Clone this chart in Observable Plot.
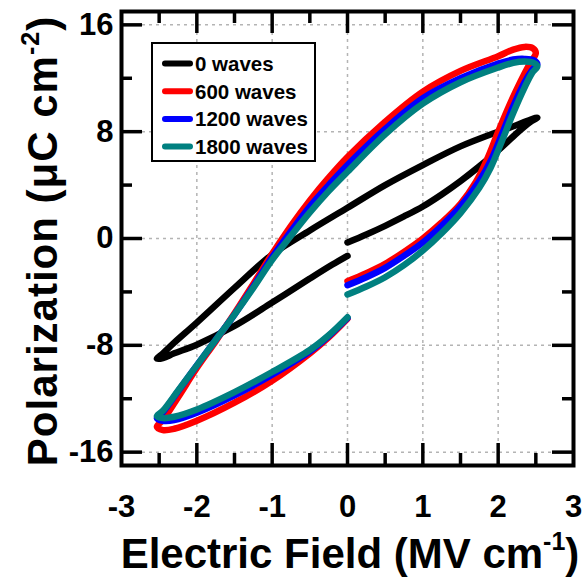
<!DOCTYPE html>
<html><head><meta charset="utf-8">
<script src="https://cdn.jsdelivr.net/npm/d3@7"></script>
<script src="https://cdn.jsdelivr.net/npm/@observablehq/plot@0.6"></script>
<style>body{margin:0;background:#fff} svg{display:block}</style>
</head><body><div id="chart"></div>
<script>
const seriesNames = ["0 waves", "600 waves", "1200 waves", "1800 waves"];
const seriesColors = ["#000000", "#ff0000", "#0000ff", "#008080"];
const xTicks = [-3, -2, -1, 0, 1, 2, 3];
const xInnerMajor = [-2, -1, 0, 1, 2];
const xMinor = [-2.5, -1.5, -0.5, 0.5, 1.5, 2.5];
const yTicks = [-16, -8, 0, 8, 16];
const yMinor = [-12, -4, 4, 12];
const xTitle = "Electric Field (MV cm";
const yTitle = "Polarization (\u03bcC cm";

// [E (MV/cm), P (uC/cm2)] in measurement order
const waves0 = [
  [0,-0.3],[0.25,0.3],[0.5,0.95],[0.75,1.65],[1.0,2.4],[1.25,3.3],[1.5,4.3],[1.75,5.4],[2.0,6.6],[2.25,7.9],[2.42,8.7],[2.52,9.05],
  [2.45,8.95],[2.25,8.5],[2.0,8.0],[1.5,6.9],[1.0,5.5],[0.5,4.0],[0,2.3],[-0.5,0.6],[-1.0,-1.2],[-1.5,-3.7],[-2.0,-6.3],[-2.3,-7.8],[-2.45,-8.6],[-2.53,-9.0],
  [-2.45,-8.95],[-2.3,-8.6],[-2.0,-7.95],[-1.5,-6.55],[-1.0,-4.8],[-0.5,-3.0],[-0.2,-1.95],[0,-1.3]
];
const waves600 = [
  [0,-3.2],[0.25,-2.6],[0.5,-1.9],[0.75,-1.0],[1.0,0.0],[1.25,1.2],[1.5,2.6],[1.7,4.2],[1.85,5.9],[2.0,8.0],[2.15,10.0],[2.3,11.8],[2.42,13.1],[2.5,13.9],
  [2.46,14.25],[2.35,14.35],[2.2,14.15],[2.0,13.65],[1.5,12.55],[1.0,11.0],[0.5,8.75],[0,6.1],[-0.25,4.55],[-0.5,2.85],[-0.75,0.95],[-1.0,-1.15],[-1.25,-3.4],[-1.5,-5.6],[-1.75,-7.7],[-2.0,-9.7],[-2.25,-11.9],[-2.45,-13.6],[-2.53,-14.1],
  [-2.45,-14.35],[-2.3,-14.25],[-2.0,-13.65],[-1.5,-12.3],[-1.0,-10.65],[-0.5,-8.6],[-0.25,-7.4],[0,-6.0]
];
const waves1200 = [
  [0,-3.5],[0.25,-2.9],[0.5,-2.2],[0.75,-1.3],[1.0,-0.3],[1.25,0.95],[1.5,2.4],[1.75,4.3],[1.9,5.8],[2.05,7.8],[2.2,9.9],[2.35,11.7],[2.45,12.6],[2.52,13.05],
  [2.47,13.35],[2.35,13.45],[2.2,13.4],[2.0,13.1],[1.5,12.0],[1.0,10.5],[0.5,8.2],[0,5.5],[-0.25,4.0],[-0.5,2.4],[-0.75,0.55],[-1.0,-1.4],[-1.25,-3.6],[-1.5,-5.7],[-1.75,-7.6],[-2.0,-9.5],[-2.25,-11.45],[-2.45,-13.0],[-2.53,-13.45],
  [-2.45,-13.65],[-2.3,-13.6],[-2.0,-13.05],[-1.5,-11.75],[-1.0,-10.2],[-0.5,-8.45],[-0.25,-7.3],[0,-5.95]
];
const waves1800 = [
  [0,-4.2],[0.25,-3.6],[0.5,-2.9],[0.75,-2.0],[1.0,-0.9],[1.25,0.4],[1.5,1.9],[1.75,3.8],[1.9,5.3],[2.05,7.3],[2.2,9.4],[2.35,11.3],[2.45,12.4],[2.52,12.9],
  [2.47,13.15],[2.35,13.25],[2.2,13.15],[2.0,12.8],[1.5,11.7],[1.0,10.1],[0.5,7.8],[0,5.0],[-0.25,3.55],[-0.5,1.95],[-0.75,0.2],[-1.0,-1.6],[-1.25,-3.7],[-1.5,-5.7],[-1.75,-7.6],[-2.0,-9.5],[-2.25,-11.4],[-2.45,-12.9],[-2.53,-13.3],
  [-2.45,-13.45],[-2.3,-13.35],[-2.0,-12.8],[-1.5,-11.5],[-1.0,-10.0],[-0.5,-8.35],[-0.25,-7.25],[0,-5.9]
];
const allSeries = [waves0, waves600, waves1200, waves1800];

const W = 587, H = 583, mL = 121, mR = 14, mT = 11, mB = 118;
const frameW = W - mL - mR, frameH = H - mT - mB;
const font = "'Liberation Sans', Arial, Helvetica, sans-serif";
const fmt = d => (d < 0 ? "-" + Math.abs(d) : String(d));

const lineMarks = allSeries.map((s, i) =>
  Plot.line(s.map(([E, P]) => ({E, P, series: seriesNames[i]})), {
    x: "E", y: "P", stroke: "series", strokeWidth: 6.5, curve: "catmull-rom",
    strokeLinecap: "round", strokeLinejoin: "round"
  })
);

const tickStyle = {stroke: "black", strokeWidth: 3.5};
const plot = Plot.plot({
  width: W, height: H,
  marginLeft: mL, marginRight: mR, marginTop: mT, marginBottom: mB,
  style: {fontFamily: font, background: "white"},
  x: {domain: [-3, 3], axis: null, label: null},
  y: {domain: [-17, 17], axis: null, label: null},
  color: {domain: seriesNames, range: seriesColors},
  marks: [
    Plot.gridX(xInnerMajor, {stroke: "#b4b4b4", strokeOpacity: 1, strokeWidth: 1.5, strokeDasharray: "3,4"}),
    Plot.gridY(yTicks, {stroke: "#b4b4b4", strokeOpacity: 1, strokeWidth: 1.5, strokeDasharray: "3,4"}),
    ...lineMarks,
    // inward ticks, bottom / top
    Plot.ruleX(xInnerMajor, {...tickStyle, insetTop: frameH - 22}),
    Plot.ruleX(xMinor, {...tickStyle, insetTop: frameH - 12}),
    Plot.ruleX(xInnerMajor, {...tickStyle, insetBottom: frameH - 22}),
    Plot.ruleX(xMinor, {...tickStyle, insetBottom: frameH - 12}),
    // inward ticks, left / right
    Plot.ruleY(yTicks, {...tickStyle, insetRight: frameW - 21}),
    Plot.ruleY(yMinor, {...tickStyle, insetRight: frameW - 11}),
    Plot.ruleY(yTicks, {...tickStyle, insetLeft: frameW - 21}),
    Plot.ruleY(yMinor, {...tickStyle, insetLeft: frameW - 11}),
    Plot.frame({stroke: "black", strokeWidth: 4}),
    Plot.axisX(xTicks, {tickSize: 0, tickPadding: 29, fontSize: 31, fontWeight: "bold", tickFormat: fmt, label: null}),
    Plot.axisY(yTicks, {tickSize: 0, tickPadding: 8, fontSize: 31, fontWeight: "bold", tickFormat: fmt, label: null})
  ]
});
document.getElementById("chart").append(plot);

const svg = d3.select(plot);
// Legend
const lg = svg.append("g").attr("font-family", font).attr("text-anchor", "start");
lg.append("rect").attr("x", 152).attr("y", 43).attr("width", 163).attr("height", 118)
  .attr("fill", "white").attr("stroke", "black").attr("stroke-width", 2);
seriesNames.forEach((name, i) => {
  const y = 63.5 + i * 27.7;
  lg.append("line").attr("x1", 165).attr("x2", 190).attr("y1", y).attr("y2", y)
    .attr("stroke", seriesColors[i]).attr("stroke-width", 6).attr("stroke-linecap", "round");
  lg.append("text").attr("x", 195).attr("y", y).attr("dy", "0.36em").attr("text-anchor", "start")
    .attr("font-size", 20.5).attr("font-weight", "bold").attr("fill", "black").text(name);
});

// Axis titles
const xt = svg.append("text").attr("x", 350).attr("y", 568).attr("text-anchor", "middle")
  .attr("font-family", font).attr("font-size", 42).attr("font-weight", "bold").attr("fill", "black");
xt.append("tspan").text(xTitle);
xt.append("tspan").attr("font-size", 25).attr("dy", -18).text("-1");
xt.append("tspan").attr("dy", 18).text(")");

const yt = svg.append("text").attr("transform", "translate(57,241) rotate(-90)").attr("text-anchor", "middle")
  .attr("font-family", font).attr("font-size", 42).attr("font-weight", "bold").attr("fill", "black")
  .attr("letter-spacing", 1);
yt.append("tspan").text(yTitle);
yt.append("tspan").attr("font-size", 25).attr("dy", -18).text("-2");
yt.append("tspan").attr("dy", 18).text(")");
</script>
</body></html>
